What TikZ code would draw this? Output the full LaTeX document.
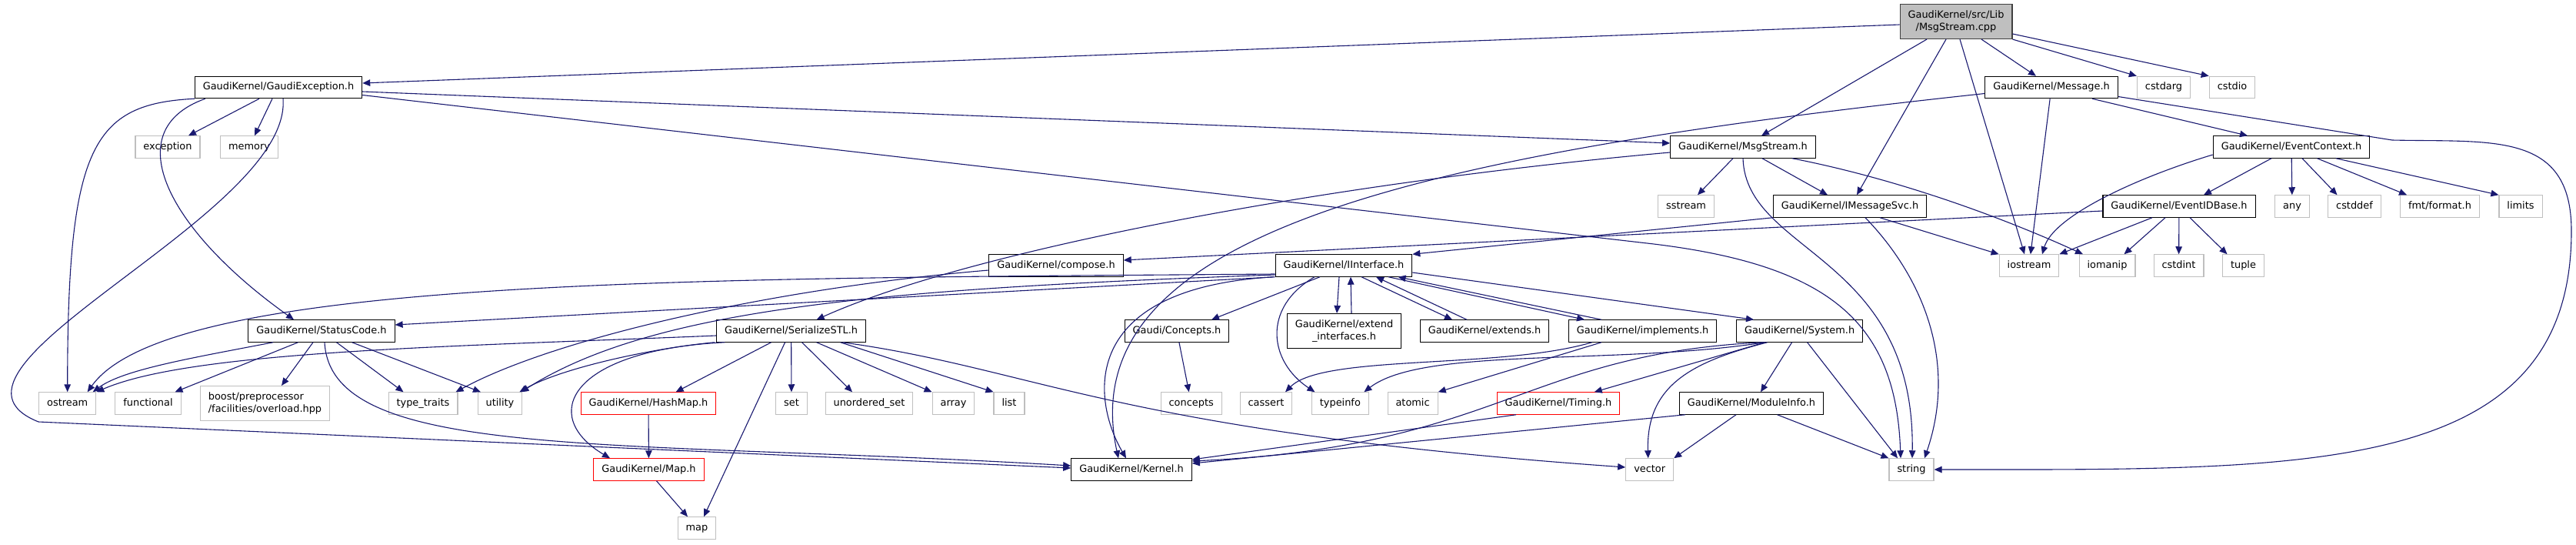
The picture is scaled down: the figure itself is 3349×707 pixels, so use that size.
\documentclass[tikz,border=0pt]{standalone}
\usepackage{fontspec}
\setmainfont{DejaVu Sans}
\usepackage{xcolor}
\usepackage{tikz}
\usetikzlibrary{arrows.meta, positioning}

\definecolor{edgeblue}{HTML}{191970}
\definecolor{libgray}{HTML}{BFBFBF}
\definecolor{srcfill}{HTML}{BFBFBF}
\definecolor{srcborder}{HTML}{404040}
\newcommand{\graphfont}{\fontsize{12.9}{16.5}\selectfont}

\begin{document}
\begin{tikzpicture}[
  x=1pt, y=-1pt,
  gnode/.style={draw, rectangle, line width=1.1pt, fill=white, inner xsep=10.5pt, inner ysep=0pt,
    minimum height=28.4pt, text height=9.4pt, text depth=2.6pt, font=\graphfont},
  hdr/.style={gnode, draw=black},
  lib/.style={gnode, draw=libgray},
  trunc/.style={gnode, draw=red},
  src/.style={gnode, draw=srcborder, fill=srcfill},
  twoline/.style={text height=, text depth=, minimum height=45pt},
  arr/.style={-{Triangle[length=10pt, width=8.5pt]}, draw=edgeblue, line width=1.1pt}
]
\path[fill=white, use as bounding box] (0,0) rectangle (3349,707);

\node[src, twoline, align=center] (src) at (2543,28) {GaudiKernel/src/Lib\\/MsgStream.cpp};

\node[hdr] (gexc) at (362,113.5) {GaudiKernel/GaudiException.h};
\node[lib] (exc) at (218,191) {exception};
\node[lib] (mem) at (324,191) {memory};
\node[hdr] (msg) at (2667,113.5) {GaudiKernel/Message.h};
\node[lib] (cstdarg) at (2813,113.5) {cstdarg};
\node[lib] (cstdio) at (2902,113.5) {cstdio};

\node[hdr] (mstr) at (2266,191) {GaudiKernel/MsgStream.h};
\node[hdr] (evctx) at (2979,191) {GaudiKernel/EventContext.h};

\node[lib] (sstr) at (2192,268) {sstream};
\node[hdr] (imsvc) at (2405,268) {GaudiKernel/IMessageSvc.h};
\node[hdr] (evid) at (2833,268) {GaudiKernel/EventIDBase.h};
\node[lib] (any) at (2980,268) {any};
\node[lib] (cstddef) at (3061,268) {cstddef};
\node[lib] (fmt) at (3172,268) {fmt/format.h};
\node[lib] (limits) at (3277,268) {limits};

\node[hdr] (comp) at (1373,345) {GaudiKernel/compose.h};
\node[hdr] (iint) at (1747,345) {GaudiKernel/IInterface.h};
\node[lib] (iostr) at (2638,345) {iostream};
\node[lib] (iomanip) at (2739.5,345) {iomanip};
\node[lib] (cstdint) at (2832.5,345) {cstdint};
\node[lib] (tuple) at (2916.5,345) {tuple};

\node[hdr] (sc) at (418,430) {GaudiKernel/StatusCode.h};
\node[hdr] (stl) at (1028.6,430) {GaudiKernel/SerializeSTL.h};
\node[hdr] (conc) at (1530,430) {Gaudi/Concepts.h};
\node[hdr, twoline, align=center] (extif) at (1747.5,430) {GaudiKernel/extend\\\_interfaces.h};
\node[hdr] (exts) at (1930,430) {GaudiKernel/extends.h};
\node[hdr] (impl) at (2135.6,430) {GaudiKernel/implements.h};
\node[hdr] (sys) at (2339.6,430) {GaudiKernel/System.h};

\node[lib] (ostr) at (87.7,524) {ostream};
\node[lib] (func) at (192.5,524) {functional};
\node[lib, twoline, align=left] (boost) at (344.5,524) {boost/preprocessor\\/facilities/overload.hpp};
\node[lib] (tt) at (550,524) {type\_traits};
\node[lib] (util) at (650,524) {utility};
\node[trunc] (hmap) at (843,524) {GaudiKernel/HashMap.h};
\node[lib] (stdset) at (1029,524) {set};
\node[lib] (uset) at (1130,524) {unordered\_set};
\node[lib] (stdarray) at (1239.5,524) {array};
\node[lib] (stdlist) at (1312,524) {list};
\node[lib] (concpt) at (1548.7,524) {concepts};
\node[lib] (cass) at (1646,524) {cassert};
\node[lib] (tinfo) at (1742.4,524) {typeinfo};
\node[lib] (atom) at (1836.6,524) {atomic};
\node[trunc] (tim) at (2026,524) {GaudiKernel/Timing.h};
\node[hdr] (modi) at (2277,524) {GaudiKernel/ModuleInfo.h};

\node[trunc] (gmap) at (843.5,610) {GaudiKernel/Map.h};
\node[hdr] (kern) at (1471,610) {GaudiKernel/Kernel.h};
\node[lib] (vec) at (2144.7,610) {vector};
\node[lib] (str) at (2485,610) {string};

\node[lib] (stdmap) at (906,686) {map};

\draw[arr] ([yshift=-4pt]src.west) -- ([yshift=5.5pt]gexc.east);
\draw[arr] ([xshift=-38pt]src.south) -- ([xshift=24pt]mstr.north);
\draw[arr] ([xshift=-13pt]src.south) -- ([xshift=9pt]imsvc.north);
\draw[arr] ([xshift=5pt]src.south) -- ([xshift=-6pt]iostr.north);
\draw[arr] ([xshift=33pt]src.south) -- ([xshift=-20pt]msg.north);
\draw[arr] (src.south east) -- (cstdarg.north west);
\draw[arr] ([yshift=-16pt]src.east) -- (cstdio.north west);

\draw[arr] ([xshift=-25pt]gexc.south) -- ([xshift=27pt]exc.north);
\draw[arr] ([xshift=-8pt]gexc.south) -- ([xshift=7pt]mem.north);
\draw[arr] ([yshift=-5.5pt]gexc.east) -- ([yshift=5pt]mstr.west);
\draw[arr] ([yshift=-10pt]gexc.east) -- (2150,317) .. controls (2380,345) and (2465,420) .. ([xshift=-14pt]str.north);
\draw[arr] ([xshift=14pt]gexc.south west) .. controls (150,170) and (220,300) .. ([xshift=-36pt]sc.north);
\draw[arr] (gexc.south west) .. controls (120,135) and (88,190) .. (ostr.north);
\draw[arr] ([xshift=6pt]gexc.south) .. controls (380,280) and (-120,480) .. (50,548) -- ([yshift=2pt]kern.west);

\draw[arr] ([yshift=-8pt]msg.west) .. controls (1850,200) and (1390,300) .. ([xshift=-17pt]kern.north);
\draw[arr] (msg) -- (iostr);
\draw[arr] ([xshift=53pt]msg.south) -- ([xshift=-57pt]evctx.north);
\draw[arr] ([yshift=-12pt]msg.east) -- (3110,182) .. controls (3240,185) and (3343,170) .. (3343,300)
  .. controls (3343,620) and (3000,610) .. (str.east);

\draw[arr] ([xshift=-13pt]mstr.south) -- ([xshift=15pt]sstr.north);
\draw[arr] ([xshift=25pt]mstr.south) -- ([xshift=-29pt]imsvc.north);
\draw[arr] ([xshift=64pt]mstr.south) .. controls (2480,235) and (2620,290) .. ([xshift=-31.5pt]iomanip.north);
\draw[arr] (mstr.south) .. controls (2270,330) and (2490,330) .. ([xshift=1pt]str.north);
\draw[arr] ([yshift=-7pt]mstr.west) .. controls (1700,240) and (1250,330) .. ([xshift=33pt]stl.north);

\draw[arr] ([xshift=-26pt]evctx.south) -- ([xshift=32pt]evid.north);
\draw[arr] (evctx) -- (any);
\draw[arr] ([xshift=14pt]evctx.south) -- ([xshift=-22.5pt]cstddef.north);
\draw[arr] ([xshift=33.5pt]evctx.south) -- ([xshift=-43pt]fmt.north);
\draw[arr] ([xshift=58pt]evctx.south) -- (limits.north west);
\draw[arr] ([yshift=-10pt]evctx.west) .. controls (2780,230) and (2670,280) .. ([xshift=17pt]iostr.north);

\draw[arr] ([xshift=-35pt]evid.south) -- (iostr.north east);
\draw[arr] ([xshift=-18pt]evid.south) -- ([xshift=22pt]iomanip.north);
\draw[arr] (evid) -- (cstdint);
\draw[arr] ([xshift=14pt]evid.south) -- ([xshift=-21pt]tuple.north);
\draw[arr] ([yshift=-6pt]evid.west) -- ([yshift=7pt]comp.east);

\draw[arr] ([xshift=39pt]imsvc.south) -- (iostr.north west);
\draw[arr] ([xshift=20pt]imsvc.south) .. controls (2500,360) and (2545,470) .. ([xshift=17pt]str.north);
\draw[arr] (imsvc.south west) -- (iint.north east);

\draw[arr] ([yshift=-6pt]comp.west) .. controls (1000,375) and (720,440) .. ([xshift=-3pt]tt.north east);

\draw[arr] ([yshift=-11pt]iint.west) .. controls (900,362) and (220,360) .. ([xshift=26pt]ostr.north);
\draw[arr] (iint.south west) -- ([yshift=8pt]sc.east);
\draw[arr] ([yshift=-12pt]iint.west) .. controls (1150,375) and (850,400) .. ([xshift=-2pt]util.north east);
\draw[arr] ([xshift=-2pt]iint.south west) .. controls (1400,375) and (1420,520) .. ([xshift=-7pt]kern.north);
\draw[arr] ([xshift=-31pt]iint.south) -- ([xshift=45pt]conc.north);
\draw[arr] ([xshift=-38pt]iint.south) .. controls (1640,400) and (1650,470) .. ([xshift=-33pt]tinfo.north);
\draw[arr] ([xshift=-6pt]iint.south) -- ([xshift=-9.5pt]extif.north);
\draw[arr] ([xshift=9.5pt]extif.north) -- ([xshift=9pt]iint.south);
\draw[arr] ([xshift=23pt]iint.south) -- ([xshift=-42pt]exts.north);
\draw[arr] ([xshift=-23pt]exts.north) -- ([xshift=42pt]iint.south);
\draw[arr] ([xshift=58pt]iint.south) -- ([xshift=-75.6pt]impl.north);
\draw[arr] ([xshift=-53.6pt]impl.north) -- ([xshift=70.6pt]iint.south);
\draw[arr] ([yshift=-9pt]iint.east) -- ([xshift=-59.6pt]sys.north);

\draw[arr] ([yshift=-6pt]stl.west) .. controls (600,450) and (250,455) .. (ostr.north east);
\draw[arr] ([xshift=-2pt]stl.south west) .. controls (850,452) and (730,478) .. ([xshift=-4pt]util.north east);
\draw[arr] ([xshift=11pt]stl.south west) .. controls (740,455) and (700,540) .. ([xshift=-50.5pt]gmap.north);
\draw[arr] ([xshift=-26pt]stl.south) -- ([xshift=35.6pt]hmap.north);
\draw[arr] ([xshift=-8pt]stl.south) -- ([xshift=9pt]stdmap.north);
\draw[arr] (stl) -- (stdset);
\draw[arr] ([xshift=14pt]stl.south) -- ([xshift=-22pt]uset.north);
\draw[arr] ([xshift=33pt]stl.south) -- (stdarray.north west);
\draw[arr] ([xshift=64pt]stl.south) -- (stdlist.north west);
\draw[arr] ([xshift=67pt]stl.south) .. controls (1350,480) and (1450,560) .. ([yshift=3pt]vec.west);

\draw[arr] ([xshift=-63pt]sc.south) .. controls (250,465) and (160,480) .. ([xshift=33pt]ostr.north);
\draw[arr] ([xshift=-30.5pt]sc.south) -- ([xshift=35pt]func.north);
\draw[arr] ([xshift=-11pt]sc.south) -- ([xshift=21.5pt]boost.north);
\draw[arr] ([xshift=4pt]sc.south) .. controls (430,600) and (800,570) .. ([yshift=5pt]kern.west);
\draw[arr] ([xshift=19.5pt]sc.south) -- ([xshift=-25.5pt]tt.north);
\draw[arr] ([xshift=39.6pt]sc.south) -- ([xshift=-25pt]util.north);

\draw[arr] (conc) -- (concpt);
\draw[arr] ([xshift=-66pt]impl.south) .. controls (1950,480) and (1720,460) .. ([xshift=25pt]cass.north);
\draw[arr] ([xshift=-53.6pt]impl.south) -- (atom.north east);

\draw[arr] ([xshift=-45pt]sys.south) .. controls (2100,475) and (1850,450) .. ([xshift=31pt]tinfo.north);
\draw[arr] ([xshift=-48pt]sys.south) .. controls (1980,460) and (1950,580) .. ([yshift=11pt]kern.east);
\draw[arr] ([xshift=-45pt]sys.south) -- ([xshift=46.7pt]tim.north);
\draw[arr] ([xshift=-42pt]sys.south) .. controls (2200,470) and (2140,500) .. ([xshift=-2pt]vec.north);
\draw[arr] ([xshift=-10pt]sys.south) -- ([xshift=12pt]modi.north);
\draw[arr] ([xshift=10pt]sys.south) -- ([xshift=-18pt]str.north);

\draw[arr] ([xshift=-55pt]tim.south) -- ([yshift=13pt]kern.east);
\draw[arr] ([xshift=8pt]modi.south west) -- ([yshift=8pt]kern.east);
\draw[arr] ([xshift=-20pt]modi.south) -- (vec.north east);
\draw[arr] ([xshift=33.6pt]modi.south) -- (str.north west);
\draw[arr] (hmap) -- (gmap);
\draw[arr] ([xshift=10pt]gmap.south) -- ([xshift=-12pt]stdmap.north);
\end{tikzpicture}
\end{document}
